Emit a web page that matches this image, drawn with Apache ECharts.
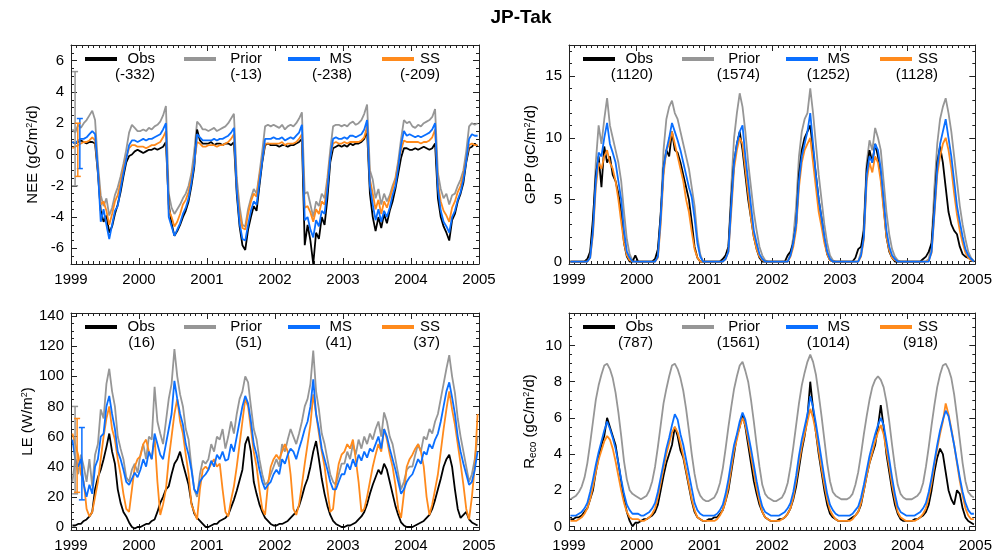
<!DOCTYPE html>
<html>
<head>
<meta charset="utf-8">
<script src="https://cdn.jsdelivr.net/npm/echarts@6/dist/echarts.min.js"></script>
<style>
html,body{margin:0;padding:0;background:#fff;}
#c{width:995px;height:555px;}
</style>
</head>
<body>
<div id="c"></div>
<script>
// Semi-monthly samples (24 per year), 1999-2004
const startYear = 1999;
const stepsPerYear = 24;
const yearTicks = [1999, 2000, 2001, 2002, 2003, 2004, 2005];

const seriesNames = ['Obs', 'Prior', 'MS', 'SS'];

// ---- NEE (gC/m2/d) ----
const neeObs = [
 0.8,0.7,0.8,0.9,0.8,0.7,0.8,0.8,0.7,-1.2,-3.6,-4.3,-3.9,-5.0,-4.6,-3.8,-3.2,-2.4,-1.4,-0.5,-0.1,0.0,0.2,0.3,
 0.2,0.1,0.2,0.3,0.3,0.4,0.3,0.4,0.5,0.8,-3.2,-4.4,-5.2,-4.9,-4.5,-4.0,-3.6,-3.0,-2.0,-0.8,1.6,0.9,0.7,0.7,
 0.7,0.8,0.6,0.7,0.7,0.6,0.7,0.7,0.6,0.8,-2.5,-4.6,-5.8,-6.1,-4.8,-4.0,-3.3,-3.6,-2.0,-0.5,0.6,0.7,0.6,0.6,
 0.6,0.5,0.6,0.6,0.5,0.6,0.6,0.7,0.8,1.0,-5.8,-4.5,-5.5,-7.0,-5.0,-5.4,-4.0,-4.5,-2.8,-0.5,0.4,0.5,0.6,0.5,
 0.6,0.5,0.7,0.6,0.7,0.7,0.8,1.0,1.5,-2.5,-4.0,-4.9,-4.0,-4.7,-3.8,-4.4,-3.6,-3.0,-2.2,-1.2,-0.2,0.4,0.4,0.3,
 0.3,0.4,0.3,0.4,0.5,0.4,0.3,0.4,0.7,-2.8,-4.0,-4.6,-5.0,-5.5,-4.2,-3.8,-3.0,-2.5,-1.8,-0.5,0.4,0.5,0.7,0.5
];
const neePrior = [
 1.6,1.4,1.9,1.7,2.0,2.2,2.5,2.8,2.2,-0.6,-2.6,-3.3,-2.8,-3.9,-3.4,-2.6,-2.1,-1.4,-0.6,0.3,1.4,1.9,1.7,1.5,
 1.5,1.6,1.5,1.7,1.6,1.8,1.9,2.1,2.5,3.1,-2.5,-3.4,-3.8,-3.5,-3.2,-2.8,-2.5,-2.0,-1.2,0.2,2.1,1.9,1.6,1.6,
 1.5,1.6,1.7,1.5,1.6,1.7,1.8,2.0,2.3,2.6,-1.5,-3.3,-4.5,-4.6,-3.5,-2.8,-2.2,-2.5,-1.2,0.2,1.8,1.9,1.8,1.9,
 1.8,1.7,1.9,1.6,1.8,1.9,1.8,2.0,2.3,2.7,-2.5,-2.4,-3.2,-4.0,-3.0,-3.3,-2.5,-2.8,-1.5,0.3,1.8,1.9,1.9,1.8,
 1.9,1.8,2.0,2.1,1.9,2.0,2.2,2.6,3.2,-1.0,-1.6,-2.8,-2.2,-3.2,-2.5,-3.0,-2.6,-2.0,-1.5,-0.4,1.0,2.2,2.0,2.1,
 1.8,1.7,1.9,1.8,2.0,2.1,2.2,2.4,2.9,-1.2,-2.2,-2.8,-2.5,-3.2,-2.6,-2.5,-2.0,-1.6,-1.0,0.2,1.8,2.0,1.9,2.0
];
const neeMs = [
 0.8,0.7,0.9,1.0,1.0,1.1,1.3,1.5,1.3,-1.0,-4.3,-3.5,-4.5,-5.4,-4.5,-3.6,-3.3,-2.2,-1.2,-0.3,0.6,0.9,0.9,0.8,
 0.9,1.0,0.9,1.0,1.0,1.1,1.2,1.3,1.6,2.0,-4.0,-4.6,-5.2,-4.8,-4.4,-3.8,-3.4,-2.8,-1.8,-0.6,1.3,1.1,0.9,0.9,
 0.9,0.9,1.0,0.9,1.0,1.0,1.1,1.2,1.4,1.7,-2.2,-4.4,-5.4,-5.5,-4.5,-3.6,-3.0,-3.2,-1.8,-0.4,1.0,1.0,1.0,1.1,
 1.0,1.0,1.1,0.9,1.0,1.1,1.0,1.2,1.4,1.9,-4.2,-4.0,-4.8,-5.3,-4.2,-4.6,-3.6,-3.8,-2.2,-0.2,1.0,1.1,1.0,1.0,
 1.1,1.0,1.2,1.2,1.1,1.2,1.3,1.6,2.2,-2.0,-3.2,-4.2,-3.5,-4.3,-3.6,-4.0,-3.4,-2.6,-2.0,-0.8,0.6,1.5,1.2,1.3,
 1.2,1.1,1.2,1.1,1.2,1.3,1.4,1.6,2.0,-2.2,-3.6,-4.3,-4.6,-5.0,-4.0,-3.6,-2.9,-2.4,-1.6,-0.4,1.0,1.3,1.2,1.2
];
const neeSs = [
 0.4,0.5,0.6,0.7,0.8,0.8,0.9,1.1,0.9,-1.0,-3.2,-3.0,-3.6,-4.5,-3.8,-3.0,-2.6,-1.8,-0.9,-0.2,0.4,0.6,0.6,0.5,
 0.5,0.5,0.4,0.5,0.6,0.6,0.7,0.8,1.1,1.5,-3.5,-4.0,-4.6,-4.3,-3.8,-3.2,-2.9,-2.4,-1.5,-0.5,0.8,0.7,0.5,0.5,
 0.6,0.6,0.6,0.5,0.6,0.6,0.7,0.8,1.0,1.3,-2.0,-3.8,-4.7,-4.8,-3.8,-3.0,-2.5,-2.7,-1.4,-0.3,0.7,0.7,0.7,0.7,
 0.7,0.7,0.8,0.6,0.7,0.7,0.7,0.8,1.0,1.3,-3.4,-3.3,-3.7,-4.3,-3.5,-3.8,-3.0,-3.2,-1.8,-0.1,0.7,0.8,0.7,0.7,
 0.8,0.7,0.8,0.8,0.8,0.8,0.9,1.1,1.8,-1.6,-2.5,-3.5,-2.9,-3.8,-3.0,-3.4,-2.8,-2.2,-1.6,-0.6,0.3,0.9,0.8,0.8,
 0.8,0.8,0.8,0.7,0.8,0.8,0.9,1.1,1.6,-1.8,-3.0,-3.6,-3.9,-4.3,-3.4,-3.0,-2.4,-2.0,-1.3,-0.3,0.6,0.7,0.6,0.6
];
const neeTotals = ['-332', '-13', '-238', '-209'];
// [time, low, high] for Prior, MS, SS
const neeErrorBars = [[1999.06, -2.0, 5.3], [1999.13, -0.9, 2.3], [1999.10, -1.4, 2.0]];

// ---- GPP (gC/m2/d) ----
const gppObs = [
 0,0,0,0,0,0,0.2,0.8,3.5,7.0,8.5,6.0,9.3,8.0,8.5,7.0,6.5,5.5,4.0,1.5,0.4,0,0,0.5,
 0,0,0,0,0,0,0.2,1.0,3.8,7.5,9.0,8.5,10.5,9.0,8.8,8.0,7.0,6.0,5.0,3.2,1.2,0.3,0,0,
 0,0,0,0,0,0,0.2,0.5,1.2,5.0,8.0,9.5,10.5,9.0,7.0,5.0,3.5,2.0,1.0,0.3,0,0,0,0,
 0,0,0,0,0,0.5,0.8,1.5,3.0,7.0,9.0,10.0,10.5,11.0,9.0,7.0,5.0,3.5,1.8,0.6,0.1,0,0,0,
 0,0,0,0,0,0.3,1.0,1.2,2.5,7.5,9.0,8.0,9.5,8.5,7.0,4.5,2.0,0.8,0.3,0,0,0,0,0,
 0,0,0,0,0,0.2,0.4,0.8,1.5,4.5,8.0,9.3,8.0,6.0,4.0,3.0,2.5,2.2,1.2,0.6,0.4,0.3,0.2,0
];
const gppPrior = [
 0,0,0,0,0,0,0,0.5,3.0,8.0,11.0,9.5,11.5,13.2,11.0,10.0,9.0,8.0,6.5,4.0,1.8,0.6,0.1,0,
 0,0,0,0,0,0,0,0.5,4.0,9.0,11.5,12.5,13.0,12.0,11.5,10.5,9.5,8.5,7.5,6.0,4.5,2.0,0.6,0,
 0,0,0,0,0,0,0,0.3,1.2,6.0,10.0,12.0,13.6,12.5,10.5,8.0,6.0,4.0,2.5,1.2,0.5,0.1,0,0,
 0,0,0,0,0,0,0.6,2.0,4.5,8.5,10.5,11.5,12.0,14.0,12.0,9.5,7.0,5.0,3.0,1.5,0.5,0.1,0,0,
 0,0,0,0,0,0,0,0.8,3.0,8.0,9.8,9.0,10.8,10.0,9.0,6.5,4.0,2.2,1.0,0.4,0.1,0,0,0,
 0,0,0,0,0,0,0,0.2,1.5,6.0,9.5,11.5,12.5,13.2,12.0,10.5,8.5,6.5,4.5,3.0,1.8,0.8,0.3,0
];
const gppMs = [
 0,0,0,0,0,0,0,0.3,2.5,6.5,8.8,8.5,10.0,11.2,9.5,8.8,8.0,6.5,5.0,2.5,0.8,0.3,0,0,
 0,0,0,0,0,0,0,0.4,3.5,7.5,9.0,10.0,11.2,10.5,9.8,9.0,8.0,7.0,6.0,5.2,3.5,1.5,0.4,0,
 0,0,0,0,0,0,0,0.2,0.8,4.5,8.0,9.5,10.5,11.0,8.5,6.5,4.5,2.5,1.5,0.6,0.2,0,0,0,
 0,0,0,0,0,0,0.5,1.5,3.0,6.5,8.5,9.5,10.5,12.0,9.5,7.0,5.0,3.5,2.0,0.8,0.2,0,0,0,
 0,0,0,0,0,0,0,0.5,2.0,7.0,8.5,8.0,9.5,9.0,7.5,5.0,2.5,1.2,0.5,0.2,0,0,0,0,
 0,0,0,0,0,0,0,0,0.8,4.0,7.5,9.5,10.5,11.5,10.0,8.5,6.5,4.5,3.2,2.0,1.0,0.5,0.2,0
];
const gppSs = [
 0,0,0,0,0,0,0,0.3,2.2,6.0,8.0,7.5,8.5,9.0,8.0,7.5,6.5,5.0,3.2,1.5,0.5,0.1,0,0,
 0,0,0,0,0,0,0,0.3,3.0,7.0,9.0,9.5,10.5,9.5,8.5,7.5,6.5,5.0,4.0,2.4,1.0,0.3,0,0,
 0,0,0,0,0,0,0,0.2,0.8,4.0,7.5,9.0,10.0,9.5,7.5,5.5,3.5,2.0,1.0,0.4,0.1,0,0,0,
 0,0,0,0,0,0,0.4,1.2,2.6,6.0,8.0,9.0,9.5,10.0,8.0,6.0,4.0,2.8,1.5,0.6,0.1,0,0,0,
 0,0,0,0,0,0,0,0.4,1.8,6.5,8.0,7.2,8.5,8.0,6.5,4.2,2.0,0.9,0.3,0.1,0,0,0,0,
 0,0,0,0,0,0,0,0.1,0.7,3.8,7.0,8.5,9.5,10.0,9.0,7.5,5.5,3.8,2.5,1.5,0.7,0.3,0.1,0
];
const gppTotals = ['1120', '1574', '1252', '1128'];

// ---- LE (W/m2) ----
const leObs = [
 1,1,2,2,4,5,7,10,25,33,38,45,53,62,50,42,25,16,10,7,3,0,-1,0,
 0,1,2,2,4,5,10,16,20,25,27,35,42,45,50,42,35,28,16,9,6,4,2,0,
 0,1,2,2,4,5,6,8,13,18,24,31,38,55,60,50,30,22,15,10,6,4,2,1,
 1,2,2,3,4,6,8,10,14,20,27,32,40,50,57,45,32,22,14,8,4,2,1,0,
 0,1,1,2,3,5,7,10,15,22,28,33,38,35,42,38,30,22,14,8,3,1,0,0,
 0,1,2,3,4,6,8,12,18,25,32,40,45,48,40,25,12,6,8,10,5,3,2,1
];
const lePrior = [
 30,45,35,48,40,30,45,27,48,55,78,72,95,105,90,80,60,52,45,33,30,38,42,36,
 48,55,45,60,58,93,70,62,55,70,85,95,118,100,88,80,65,58,40,25,20,35,44,42,
 45,55,50,60,58,65,52,60,70,62,75,85,90,100,96,80,65,58,45,35,28,30,35,40,
 45,40,55,50,58,65,60,55,62,70,80,85,95,117,90,78,62,55,45,35,30,28,35,42,
 42,50,45,55,48,58,52,60,55,62,58,65,70,60,76,70,60,55,45,35,25,30,38,40,
 40,48,55,50,60,58,65,62,70,75,85,95,105,114,100,89,72,60,50,40,30,35,45,60
];
const leMs = [
 58,45,40,45,28,20,28,22,40,45,60,62,80,87,75,65,50,45,38,30,28,32,36,33,
 38,45,40,50,45,62,55,48,45,55,65,75,97,85,75,68,55,48,38,25,22,30,33,35,
 38,44,40,48,45,50,44,45,55,50,60,70,80,87,82,70,55,48,38,30,25,28,30,35,
 38,35,45,42,48,52,50,45,52,58,65,70,80,98,75,65,52,45,38,30,25,25,30,35,
 35,42,38,45,40,48,44,50,46,52,50,55,60,52,65,60,52,45,38,30,22,25,30,33,
 35,40,45,42,50,48,55,52,58,62,70,80,90,96,86,75,60,50,42,35,28,30,38,50
];
const leSs = [
 62,55,48,35,30,12,7,10,20,30,45,60,72,80,65,58,45,35,22,12,10,25,40,45,
 47,55,58,50,45,60,30,8,15,25,45,60,75,85,70,62,48,35,15,10,5,25,38,40,
 38,42,45,40,42,25,10,7,18,27,40,55,70,85,80,65,50,40,25,12,8,28,40,45,
 48,45,50,55,50,35,12,8,15,28,42,55,68,88,75,62,50,40,25,10,12,30,42,48,
 50,55,52,58,45,30,10,12,20,30,40,48,55,50,65,58,48,40,28,12,6,22,40,45,
 48,52,55,50,40,20,8,15,25,35,50,65,78,90,78,68,55,42,28,12,5,20,40,75
];
const leTotals = ['16', '51', '41', '37'];
const leErrorBars = [[1999.06, 22, 80], [1999.16, 18, 66], [1999.09, 23, 72]];

// ---- Reco (gC/m2/d) ----
const recoObs = [
 0.4,0.4,0.5,0.5,0.6,0.8,1.0,1.5,2.0,3.0,3.8,4.5,5.0,6.0,5.5,5.0,4.5,3.5,2.5,1.5,0.8,0.3,0.0,0.2,
 0.2,0.3,0.4,0.4,0.5,0.6,0.8,1.2,2.0,2.8,3.5,4.0,4.5,5.5,5.0,4.2,3.8,3.0,2.2,1.4,0.8,0.5,0.4,0.3,
 0.3,0.4,0.4,0.5,0.5,0.7,0.9,1.4,2.0,3.0,4.0,5.0,5.5,6.2,5.5,4.5,3.5,2.5,1.8,1.2,0.8,0.5,0.4,0.3,
 0.3,0.3,0.4,0.4,0.5,0.7,1.0,1.5,2.2,3.2,4.2,5.0,6.0,8.0,6.5,5.2,4.0,3.0,2.0,1.2,0.7,0.5,0.4,0.3,
 0.3,0.3,0.3,0.4,0.5,0.6,0.8,1.2,2.0,2.8,3.5,4.0,4.5,5.5,6.7,5.5,4.0,3.0,2.0,1.2,0.7,0.4,0.3,0.3,
 0.3,0.3,0.4,0.4,0.5,0.6,0.8,1.2,2.0,3.0,3.8,4.3,4.0,3.0,2.0,1.5,1.2,2.0,1.8,1.0,0.5,0.3,0.2,0.1
];
const recoPrior = [
 1.5,1.6,1.7,1.9,2.2,2.7,3.5,4.6,5.8,7.0,7.8,8.4,8.9,9.0,8.7,8.2,7.4,6.3,5.0,3.6,2.6,2.0,1.8,1.7,
 1.6,1.5,1.6,1.7,2.0,2.5,3.3,4.4,5.6,6.8,7.6,8.3,8.9,9.0,8.7,8.2,7.5,6.5,5.3,4.0,2.9,2.1,1.7,1.5,
 1.4,1.4,1.5,1.6,1.9,2.4,3.2,4.3,5.5,6.6,7.6,8.3,8.9,9.1,8.6,8.0,7.0,5.8,4.5,3.3,2.3,1.8,1.6,1.5,
 1.4,1.4,1.5,1.6,1.9,2.4,3.3,4.4,5.6,6.8,7.8,8.5,9.1,9.5,9.1,8.4,7.3,6.1,4.8,3.5,2.5,1.9,1.7,1.6,
 1.5,1.5,1.5,1.6,1.8,2.3,3.0,4.0,5.1,6.1,7.0,7.7,8.1,8.3,8.1,7.7,6.9,5.8,4.5,3.3,2.3,1.8,1.6,1.5,
 1.5,1.5,1.6,1.7,1.9,2.4,3.3,4.4,5.6,6.7,7.7,8.4,8.9,9.0,8.7,8.2,7.3,6.1,4.8,3.5,2.5,1.9,1.7,1.6
];
const recoMs = [
 0.6,0.6,0.6,0.7,0.8,1.0,1.3,1.9,2.6,3.4,4.1,4.7,5.3,5.8,5.4,4.9,4.3,3.5,2.6,1.8,1.2,0.9,0.7,0.7,
 0.7,0.6,0.6,0.7,0.8,1.0,1.3,1.9,2.7,3.5,4.3,4.9,5.6,6.2,5.9,5.1,4.5,3.7,2.9,2.1,1.3,0.9,0.7,0.6,
 0.6,0.6,0.6,0.6,0.7,0.9,1.2,1.8,2.6,3.6,4.5,5.1,5.8,6.3,5.9,5.1,4.3,3.4,2.5,1.7,1.1,0.8,0.7,0.6,
 0.6,0.6,0.6,0.7,0.8,1.0,1.3,1.9,2.8,3.9,4.8,5.5,6.2,7.2,6.6,5.7,4.7,3.7,2.7,1.8,1.2,0.9,0.7,0.6,
 0.6,0.6,0.6,0.6,0.7,0.9,1.1,1.6,2.3,3.1,3.9,4.5,5.1,5.6,6.0,5.6,4.7,3.7,2.7,1.8,1.1,0.8,0.7,0.6,
 0.6,0.6,0.6,0.7,0.8,1.0,1.3,1.9,2.7,3.6,4.5,5.3,5.9,6.4,6.1,5.3,4.5,3.6,2.7,1.9,1.3,0.9,0.7,0.7
];
const recoSs = [
 0.3,0.3,0.3,0.4,0.5,0.7,1.0,1.5,2.2,3.0,3.7,4.2,4.7,5.0,4.8,4.3,3.6,2.8,2.0,1.3,0.8,0.5,0.4,0.4,
 0.4,0.3,0.3,0.4,0.5,0.7,1.0,1.6,2.4,3.2,4.0,4.6,5.2,5.5,5.2,4.6,3.9,3.1,2.3,1.5,0.9,0.5,0.4,0.3,
 0.3,0.3,0.3,0.3,0.4,0.6,0.9,1.4,2.2,3.2,4.2,4.8,5.5,6.0,5.6,4.8,3.9,3.0,2.1,1.4,0.8,0.5,0.4,0.3,
 0.3,0.3,0.3,0.4,0.5,0.7,1.0,1.6,2.5,3.5,4.4,5.1,5.8,6.5,6.0,5.2,4.2,3.2,2.3,1.5,0.9,0.6,0.4,0.3,
 0.3,0.3,0.3,0.3,0.4,0.6,0.8,1.3,2.0,2.8,3.5,4.1,4.7,5.2,5.6,5.1,4.2,3.3,2.3,1.5,0.8,0.5,0.4,0.3,
 0.3,0.3,0.3,0.4,0.5,0.7,1.0,1.6,2.4,3.4,4.3,5.1,5.8,6.8,6.2,5.4,4.5,3.5,2.5,1.7,1.0,0.6,0.4,0.4
];
const recoTotals = ['787', '1561', '1014', '918'];

// Axis tick values
const neeTicks = [-6, -4, -2, 0, 2, 4, 6];
const gppTicks = [0, 5, 10, 15];
const leTicks = [0, 20, 40, 60, 80, 100, 120, 140];
const recoTicks = [0, 2, 4, 6, 8, 10];

// ------------------------------------------------------------------
const colors = { Obs: '#000000', Prior: '#969696', MS: '#0a6fff', SS: '#ff8a1c' };
const FONT = '"Liberation Sans", Arial, sans-serif';

function toPairs(values) {
  return values.map((v, i) => [startYear + (i + 0.5) / stepsPerYear, v]);
}
function steps(a, b, s) {
  const out = [];
  for (let k = 0; a + k * s <= b + 1e-9; k++) out.push(+(a + k * s).toFixed(6));
  return out;
}
const monthTicks = steps(1999, 2005, 1 / 12);

const grids = [
  { left: 71, top: 45, width: 408, height: 219 },
  { left: 569, top: 45, width: 408, height: 219 },
  { left: 71, top: 313, width: 408, height: 217 },
  { left: 569, top: 313, width: 408, height: 217 }
];

const panels = [
  { data: [neeObs, neePrior, neeMs, neeSs], totals: neeTotals, min: -7, max: 7, ticks: neeTicks,
    minor: steps(-7, 7, 0.5), name: 'NEE (gC/m{sup|2}/d)', errors: neeErrorBars },
  { data: [gppObs, gppPrior, gppMs, gppSs], totals: gppTotals, min: -0.2, max: 17.5, ticks: gppTicks,
    minor: steps(0, 17, 1), name: 'GPP (gC/m{sup|2}/d)', errors: [] },
  { data: [leObs, lePrior, leMs, leSs], totals: leTotals, min: -2, max: 142, ticks: leTicks,
    minor: steps(0, 140, 5), name: 'LE (W/m{sup|2})', errors: leErrorBars },
  { data: [recoObs, recoPrior, recoMs, recoSs], totals: recoTotals, min: -0.2, max: 11.8, ticks: recoTicks,
    minor: steps(0, 11.5, 0.5), name: 'R{sub|eco} (gC/m{sup|2}/d)', errors: [] }
];

const axisLineStyle = { color: '#222', width: 1 };
const xAxes = [], yAxes = [], series = [], graphics = [];

panels.forEach((p, g) => {
  const xBase = xAxes.length;
  const yBase = yAxes.length;
  ['bottom', 'top'].forEach(pos => {
    xAxes.push({
      type: 'value', gridIndex: g, position: pos, min: 1999, max: 2005,
      axisLine: { show: true, onZero: false, lineStyle: axisLineStyle },
      axisTick: { show: true, inside: true, length: 6, customValues: yearTicks, lineStyle: axisLineStyle },
      axisLabel: pos === 'bottom'
        ? { show: true, customValues: yearTicks, fontSize: 15, color: '#000', fontFamily: FONT, margin: 8,
            formatter: v => String(Math.round(v)) }
        : { show: false },
      splitLine: { show: false }
    });
    xAxes.push({
      type: 'value', gridIndex: g, position: pos, min: 1999, max: 2005,
      axisLine: { show: false, onZero: false },
      axisTick: { show: true, inside: true, length: 3, customValues: monthTicks, lineStyle: axisLineStyle },
      axisLabel: { show: false }, splitLine: { show: false }
    });
  });
  ['left', 'right'].forEach(pos => {
    yAxes.push({
      type: 'value', gridIndex: g, position: pos, min: p.min, max: p.max,
      name: pos === 'left' ? p.name : '',
      nameLocation: 'middle', nameGap: 31, nameRotate: 90,
      nameTextStyle: {
        fontSize: 15, color: '#000', fontFamily: FONT,
        rich: {
          sup: { fontSize: 9, verticalAlign: 'top', color: '#000', fontFamily: FONT, padding: [0, 0, 6, 0] },
          sub: { fontSize: 10, verticalAlign: 'bottom', color: '#000', fontFamily: FONT, padding: [6, 0, 0, 0] }
        }
      },
      axisLine: { show: true, onZero: false, lineStyle: axisLineStyle },
      axisTick: { show: true, inside: true, length: 6, customValues: p.ticks, lineStyle: axisLineStyle },
      axisLabel: pos === 'left'
        ? { show: true, customValues: p.ticks, fontSize: 15, color: '#000', fontFamily: FONT, margin: 7 }
        : { show: false },
      splitLine: { show: false }
    });
    yAxes.push({
      type: 'value', gridIndex: g, position: pos, min: p.min, max: p.max,
      axisLine: { show: false, onZero: false },
      axisTick: { show: true, inside: true, length: 3, customValues: p.minor, lineStyle: axisLineStyle },
      axisLabel: { show: false }, splitLine: { show: false }
    });
  });

  // Draw order: Prior, Obs, SS, MS (MS on top)
  [1, 0, 3, 2].forEach(k => {
    const nm = seriesNames[k];
    series.push({
      name: nm + g, type: 'line', xAxisIndex: xBase, yAxisIndex: yBase,
      data: toPairs(p.data[k]), showSymbol: false, symbol: 'none', clip: true,
      lineStyle: { color: colors[nm], width: 1.8 }, itemStyle: { color: colors[nm] },
      z: 2, animation: false, silent: true
    });
  });

  // Uncertainty bars at the start of the record
  if (p.errors.length) {
    const barColors = [colors.Prior, colors.MS, colors.SS];
    series.push({
      type: 'custom', xAxisIndex: xBase, yAxisIndex: yBase, z: 3, animation: false, silent: true,
      data: p.errors.map((e, i) => [e[0], e[1], e[2], i]),
      renderItem: (params, api) => {
        const lo = api.coord([api.value(0), api.value(1)]);
        const hi = api.coord([api.value(0), api.value(2)]);
        const c = barColors[api.value(3)];
        const st = { stroke: c, lineWidth: 1.5 };
        return {
          type: 'group', children: [
            { type: 'line', shape: { x1: lo[0], y1: lo[1], x2: hi[0], y2: hi[1] }, style: st },
            { type: 'line', shape: { x1: lo[0] - 3, y1: lo[1], x2: lo[0] + 3, y2: lo[1] }, style: st },
            { type: 'line', shape: { x1: hi[0] - 3, y1: hi[1], x2: hi[0] + 3, y2: hi[1] }, style: st }
          ]
        };
      }
    });
  }

  // Legend block with totals
  const gr = grids[g];
  const lineX = [14, 113, 217, 311];
  const nameRight = [84, 191, 281, 369];
  const rowY = gr.top + 14;
  const totY = gr.top + 30;
  seriesNames.forEach((nm, k) => {
    graphics.push({
      type: 'line', shape: { x1: gr.left + lineX[k], y1: rowY, x2: gr.left + lineX[k] + 32, y2: rowY },
      style: { stroke: colors[nm], lineWidth: 4 }, z: 10
    });
    graphics.push({
      type: 'text', x: gr.left + nameRight[k], y: rowY, z: 10,
      style: { text: nm, font: '15px ' + FONT, fill: '#000', textAlign: 'right', textVerticalAlign: 'middle' }
    });
    graphics.push({
      type: 'text', x: gr.left + nameRight[k], y: totY, z: 10,
      style: { text: '(' + p.totals[k] + ')', font: '15px ' + FONT, fill: '#000', textAlign: 'right', textVerticalAlign: 'middle' }
    });
  });
});

graphics.push({
  type: 'text', x: 521, y: 18, z: 10,
  style: { text: 'JP-Tak', font: 'bold 19px ' + FONT, fill: '#000', textAlign: 'center', textVerticalAlign: 'middle' }
});

const chart = echarts.init(document.getElementById('c'), null, { renderer: 'canvas' });
chart.setOption({
  backgroundColor: '#fff',
  animation: false,
  grid: grids.map(gr => Object.assign({ containLabel: false }, gr)),
  xAxis: xAxes,
  yAxis: yAxes,
  series: series,
  graphic: graphics
});
</script>
</body>
</html>
